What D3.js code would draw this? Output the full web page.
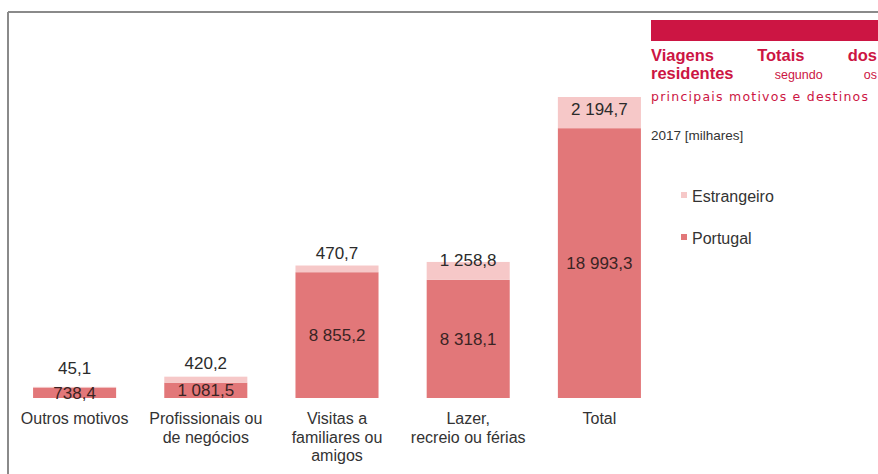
<!DOCTYPE html>
<html>
<head>
<meta charset="utf-8">
<script src="https://cdn.jsdelivr.net/npm/d3@7"></script>
<style>
  html, body { margin: 0; padding: 0; background: #ffffff; }
  svg { display: block; font-family: "Liberation Sans", Arial, sans-serif; }
</style>
</head>
<body>
<svg id="chart" width="878" height="474"></svg>
<script>
// Trip purposes (multi-line category labels)
const categories = [
  ["Outros motivos"],
  ["Profissionais ou", "de negócios"],
  ["Visitas a", "familiares ou", "amigos"],
  ["Lazer,", "recreio ou férias"],
  ["Total"]
];
// Trips by destination, 2017, thousands
const portugal    = [738.4, 1081.5, 8855.2, 8318.1, 18993.3];
const estrangeiro = [45.1, 420.2, 470.7, 1258.8, 2194.7];
const seriesNames = ["Estrangeiro", "Portugal"];

const colPortugal = "#e27779";
const colEstrangeiro = "#f6c8c8";
const crimson = "#cc1543";

const fmt = v => {
  const [i, d] = v.toFixed(1).split(".");
  return i.replace(/\B(?=(\d{3})+(?!\d))/g, " ") + "," + d;
};

const svg = d3.select("#chart");

// Frame lines (top and left)
svg.append("line").attr("x1", 8).attr("x2", 878).attr("y1", 12).attr("y2", 12)
  .attr("stroke", "#8a8a8a").attr("stroke-width", 2);
svg.append("line").attr("x1", 8).attr("x2", 8).attr("y1", 12).attr("y2", 474)
  .attr("stroke", "#8a8a8a").attr("stroke-width", 2);

const rows = categories.map((c, i) => ({
  key: i, label: c, portugal: portugal[i], estrangeiro: estrangeiro[i]
}));

const x = d3.scaleBand()
  .domain(rows.map(r => r.key))
  .range([9, 665])
  .paddingInner(0.367)
  .paddingOuter(0.1835);

const maxTotal = d3.max(rows, r => r.portugal + r.estrangeiro);
const y = d3.scaleLinear().domain([0, maxTotal]).range([398, 97]);

const stack = d3.stack().keys(["portugal", "estrangeiro"]);
const layers = stack(rows);
const colors = { portugal: colPortugal, estrangeiro: colEstrangeiro };

const g = svg.append("g");
layers.forEach(layer => {
  g.selectAll(null).data(layer).join("rect")
    .attr("x", d => x(d.data.key))
    .attr("width", x.bandwidth())
    .attr("y", d => y(d[1]))
    .attr("height", d => y(d[0]) - y(d[1]))
    .attr("fill", colors[layer.key]);
});

// Portugal values centred in their segment
g.selectAll(null).data(layers[0]).join("text")
  .attr("x", d => x(d.data.key) + x.bandwidth() / 2)
  .attr("y", d => (y(d[0]) + y(d[1])) / 2)
  .attr("dy", "0.36em")
  .attr("text-anchor", "middle")
  .attr("font-size", 17)
  .attr("fill", "#3a2424")
  .text(d => fmt(d.data.portugal));

// Foreign-destination values anchored above the segment base
g.selectAll(null).data(layers[1]).join("text")
  .attr("x", d => x(d.data.key) + x.bandwidth() / 2)
  .attr("y", d => y(d[0]) - 13.5)
  .attr("text-anchor", "middle")
  .attr("font-size", 17)
  .attr("fill", "#2b2b2b")
  .text(d => fmt(d.data.estrangeiro));

// Category axis (labels only)
const xAxis = d3.axisBottom(x).tickSize(0).tickFormat("");
const axisG = svg.append("g").attr("transform", "translate(0,398)").call(xAxis);
axisG.select(".domain").remove();
axisG.selectAll(".tick").each(function(k) {
  const t = d3.select(this).append("text")
    .attr("text-anchor", "middle")
    .attr("font-size", 16)
    .attr("fill", "#333333");
  categories[k].forEach((line, j) => {
    t.append("tspan").attr("x", 0).attr("y", 26 + j * 18.5).text(line);
  });
});

// Title block
svg.append("rect").attr("x", 651).attr("y", 20).attr("width", 227).attr("height", 21)
  .attr("fill", crimson);

function justify(words, left, right, baseline) {
  const nodes = words.map(w => svg.append("text")
    .attr("y", baseline)
    .attr("font-size", w.size)
    .attr("font-weight", w.bold ? "bold" : "normal")
    .attr("fill", crimson)
    .text(w.text));
  const widths = nodes.map(n => n.node().getComputedTextLength());
  const gap = (right - left - d3.sum(widths)) / (words.length - 1);
  let cx = left;
  nodes.forEach((n, i) => { n.attr("x", cx); cx += widths[i] + gap; });
}

justify([
  { text: "Viagens", size: 16.5, bold: true },
  { text: "Totais", size: 16.5, bold: true },
  { text: "dos", size: 16.5, bold: true }
], 651, 877, 61);
justify([
  { text: "residentes", size: 16.5, bold: true },
  { text: "segundo", size: 12.5, bold: false },
  { text: "os", size: 12.5, bold: false }
], 651, 877, 79);
svg.append("text").attr("x", 651).attr("y", 101)
  .attr("font-family", "'DejaVu Sans', sans-serif")
  .attr("font-size", 12.5).attr("fill", crimson)
  .attr("textLength", 217).attr("lengthAdjust", "spacing")
  .text("principais motivos e destinos");

svg.append("text").attr("x", 651).attr("y", 140)
  .attr("font-size", 13.5).attr("fill", "#333333")
  .text("2017 [milhares]");

// Legend
const legend = svg.append("g");
seriesNames.forEach((name, i) => {
  const row = legend.append("g").attr("transform", `translate(681, ${196 + i * 42})`);
  row.append("rect").attr("x", 0).attr("y", -4).attr("width", 6).attr("height", 6)
    .attr("fill", name === "Portugal" ? colPortugal : colEstrangeiro);
  row.append("text").attr("x", 11).attr("y", 0).attr("dy", "0.35em")
    .attr("font-size", 16).attr("fill", "#333333").text(name);
});
</script>
</body>
</html>
